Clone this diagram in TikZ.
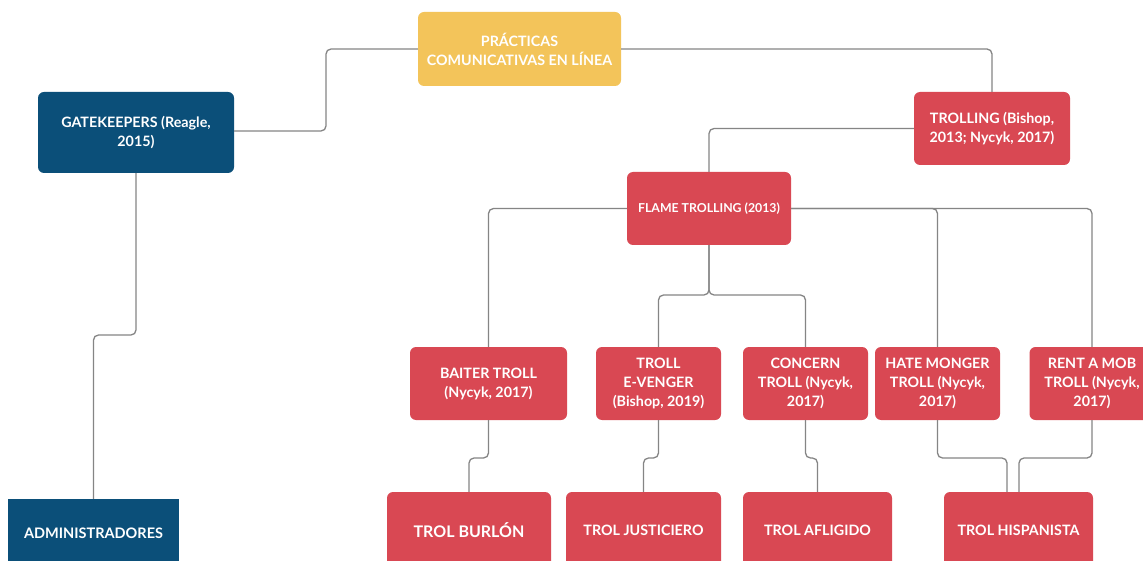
\documentclass[tikz,border=0pt]{standalone}
\usepackage{fontspec}
\setmainfont{Lato}
\definecolor{cyel}{HTML}{F3C45A}
\definecolor{cblue}{HTML}{0B4F79}
\definecolor{cred}{HTML}{D94853}
\definecolor{cline}{HTML}{858585}
\begin{document}
\begin{tikzpicture}[x=1pt,y=-1pt,
  box/.style={rounded corners=6pt,text=white,align=center,inner sep=2pt,
    font=\bfseries\fontsize{14.3}{19}\selectfont},
  redbox/.style={box,fill=cred},
  link/.style={draw=cline,line width=1.3pt,rounded corners=5pt}]
\useasboundingbox (0,0) rectangle (1143,561);
\fill[white] (0,0) rectangle (1143,561);
% nodes
\node[box,fill=cyel,minimum width=203pt,minimum height=74pt] (prac) at (519.5,49) {PRÁCTICAS\\COMUNICATIVAS EN LÍNEA};
\node[box,fill=cblue,minimum width=196pt,minimum height=81pt] (gate) at (136,132.5) {GATEKEEPERS (Reagle,\\2015)};
\node[redbox,minimum width=156pt,minimum height=73pt] (troll) at (992,128.5) {TROLLING (Bishop,\\2013; Nycyk, 2017)};
\node[redbox,minimum width=164pt,minimum height=73pt,font=\bfseries\fontsize{12.3}{15}\selectfont] (flame) at (709,208.5) {FLAME TROLLING (2013)};
\node[redbox,minimum width=157pt,minimum height=73pt] (baiter) at (488.5,383.5) {BAITER TROLL\\(Nycyk, 2017)};
\node[redbox,minimum width=125pt,minimum height=73pt] (venger) at (658.5,383.5) {TROLL\\E-VENGER\\(Bishop, 2019)};
\node[redbox,minimum width=125pt,minimum height=73pt] (concern) at (805.5,383.5) {CONCERN\\TROLL (Nycyk,\\2017)};
\node[redbox,minimum width=125pt,minimum height=73pt] (hate) at (937.5,383.5) {HATE MONGER\\TROLL (Nycyk,\\2017)};
\node[redbox,minimum width=125pt,minimum height=73pt] (rent) at (1092,383.5) {RENT A MOB\\TROLL (Nycyk,\\2017)};
\node[box,rounded corners=0pt,fill=cblue,minimum width=171pt,minimum height=68pt,font=\bfseries\fontsize{14.5}{18}\selectfont] (admin) at (93.5,533) {ADMINISTRADORES};
\node[redbox,minimum width=164pt,minimum height=76pt,font=\bfseries\fontsize{16}{20}\selectfont] (burlon) at (469,530) {TROL BURLÓN};
\node[redbox,minimum width=155pt,minimum height=76pt,font=\bfseries\fontsize{14.3}{18}\selectfont] (just) at (643.5,530) {TROL JUSTICIERO};
\node[redbox,minimum width=149pt,minimum height=76pt,font=\bfseries\fontsize{14.3}{18}\selectfont] (afli) at (817.5,530) {TROL AFLIGIDO};
\node[redbox,minimum width=149pt,minimum height=76pt,font=\bfseries\fontsize{14.3}{18}\selectfont] (hisp) at (1018.5,530) {TROL HISPANISTA};
% connectors
\draw[link] (prac.west) -- (326,49) -- (326,131) -- (gate.east |- 0,131);
\draw[link] (prac.east) -- (992,49) -- (troll.north);
\draw[link] (troll.west) -- (709,128.5) -- (flame.north);
\draw[link] (flame.west) -- (488.5,208.5) -- (baiter.north);
\draw[link] (flame.east) -- (937.5,208.5) -- (hate.north);
\draw[link] (flame.east) -- (1092,208.5) -- (rent.north);
\draw[link] (flame.south) -- (709,295) -- (658.5,295) -- (venger.north);
\draw[link] (flame.south) -- (709,295) -- (805.5,295) -- (concern.north);
\draw[link] (gate.south) -- (136,335) -- (93.5,335) -- (admin.north);
\draw[link] (baiter.south) -- (488.5,458) -- (469,458) -- (burlon.north);
\draw[link] (venger.south) -- (658.5,458) -- (643.5,458) -- (just.north);
\draw[link] (concern.south) -- (805.5,458) -- (817.5,458) -- (afli.north);
\draw[link] (hate.south) -- (937.5,458) -- (1007,458) -- (1007,492);
\draw[link] (rent.south) -- (1092,458) -- (1019,458) -- (1019,492);
\end{tikzpicture}
\end{document}
